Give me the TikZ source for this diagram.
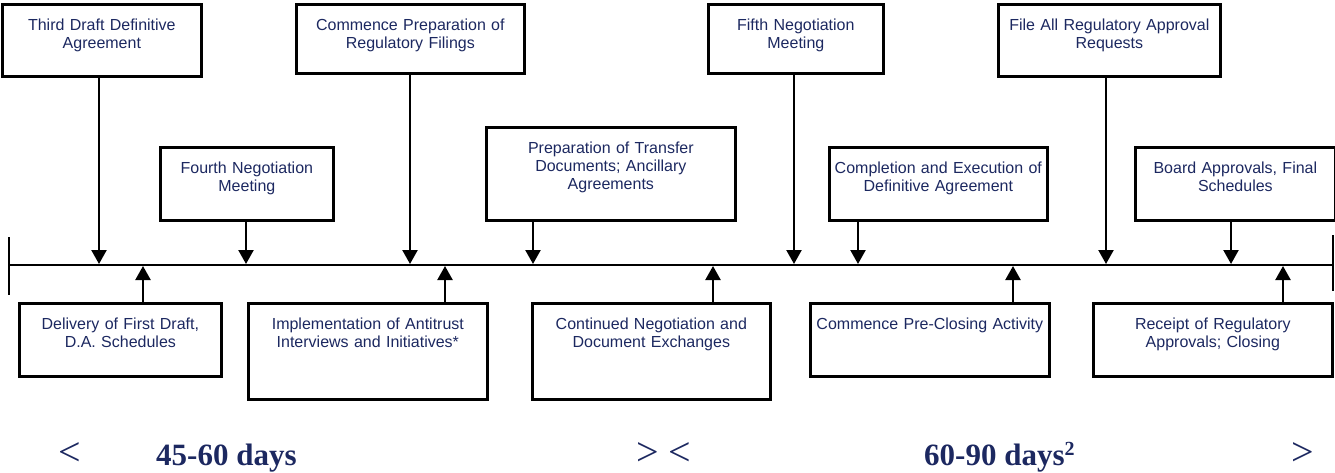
\documentclass[tikz,border=0pt]{standalone}
\usepackage{fontspec}
\usepackage{xcolor}
\usetikzlibrary{arrows.meta}
\newfontfamily\evfont{Liberation Sans}
\newfontfamily\spanfont{Liberation Serif}
\definecolor{navy}{RGB}{28,40,96}

\begin{document}
\begin{tikzpicture}[x=1pt,y=-1pt,
    evbox/.style={draw,line width=2.7pt,text=navy,font=\evfont\fontsize{16}{18}\selectfont,
        align=center,inner sep=0pt,text height=26.5pt,anchor=north west},
    evarrow/.style={-{Triangle[length=14pt,width=15pt]},line width=2.3pt,shorten >=1pt},
    tline/.style={line width=2.3pt},
    span label/.style={text=navy,font=\spanfont\fontsize{40}{44}\selectfont,inner sep=0pt,anchor=base west},
    span days/.style={span label,font=\spanfont\bfseries\fontsize{31}{34}\selectfont}]

    \useasboundingbox (0,0) rectangle (1335,472);

    % timeline
    \coordinate (tl) at (9,265);
    \coordinate (tr) at (1333,265);
    \draw[tline] (tl) -- (tr);
    \draw[tline] ([yshift=28pt]tl) -- ([yshift=-30pt]tl);
    \draw[tline] ([yshift=30pt]tr) -- ([yshift=-26pt]tr);

    % events above the line
    \node[evbox,text width=199pt,text depth=45.5pt] (tdraft) at (1,3) {Third Draft Definitive\\Agreement};
    \node[evbox,text width=173pt,text depth=46.5pt] (fourth) at (159,146) {Fourth Negotiation\\Meeting};
    \node[evbox,text width=228pt,text depth=42.5pt] (regprep) at (295,3) {Commence Preparation of\\Regulatory Filings};
    \node[evbox,text width=249pt,text depth=66.5pt] (transfer) at (485,126) {Preparation of Transfer\\Documents; Ancillary\\Agreements};
    \node[evbox,text width=175pt,text depth=42.5pt] (fifth) at (707,3) {Fifth Negotiation\\Meeting};
    \node[evbox,text width=218pt,text depth=46.5pt] (complete) at (828,146) {Completion and Execution of\\Definitive Agreement};
    \node[evbox,text width=222pt,text depth=45.5pt] (fileall) at (997,3) {File All Regulatory Approval\\Requests};
    \node[evbox,text width=200pt,text depth=46.5pt] (board) at (1134,146) {Board Approvals, Final\\Schedules};

    % events below the line
    \node[evbox,text width=202pt,text depth=46.5pt] (delivery) at (18,302) {Delivery of First Draft,\\D.A. Schedules};
    \node[evbox,text width=239pt,text depth=69.5pt] (antitrust) at (247,302) {Implementation of Antitrust\\Interviews and Initiatives*};
    \node[evbox,text width=238pt,text depth=69.5pt] (continued) at (531,302) {Continued Negotiation and\\Document Exchanges};
    \node[evbox,text width=239pt,text depth=46.5pt] (preclose) at (809,302) {Commence Pre-Closing Activity};
    \node[evbox,text width=239pt,text depth=46.5pt] (receipt) at (1092,302) {Receipt of Regulatory\\Approvals; Closing};

    \foreach \bx/\px [count=\i] in {tdraft/99,fourth/246,regprep/410,transfer/533,fifth/794,complete/858,fileall/1106,board/1231}{
        \coordinate (dn\i) at (\px,265);
        \draw[evarrow] (\bx.south -| dn\i) -- (dn\i);
    }

    \foreach \bx/\px [count=\i] in {delivery/143,antitrust/445,continued/713,preclose/1013,receipt/1283}{
        \coordinate (up\i) at (\px,265);
        \draw[evarrow] (\bx.north -| up\i) -- (up\i);
    }

    % durations
    \node[span label] (lt1) at (58,465) {<};
    \node[span days] (span1) at (156,465) {45-60 days};
    \node[span label] (gt1) at (636,465) {>};
    \node[span label] (lt2) at (668,465) {<};
    \node[span days] (span2) at (924,465) {60-90 days\textsuperscript{\fontsize{20}{20}\selectfont 2}};
    \node[span label] (gt2) at (1291,465) {>};

\end{tikzpicture}
\end{document}
